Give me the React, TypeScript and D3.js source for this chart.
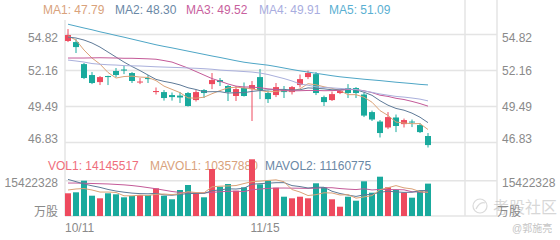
import React from 'react';
import * as d3 from 'd3';

const dates = ['10/11','10/12','10/15','10/16','10/17','10/18','10/19','10/22','10/23','10/24','10/25','10/26','10/29','10/30','10/31','11/01','11/02','11/05','11/06','11/07','11/08','11/09','11/12','11/13','11/14','11/15','11/16','11/19','11/20','11/21','11/22','11/23','11/26','11/27','11/28','11/29','11/30','12/03','12/04','12/05','12/06','12/07','12/10','12/11','12/12','12/13'];
const xTickLabels = ['10/11', '11/15'];
const xTickIndex = [0, 25];

const opens = [54.34,54.26,52.63,51.82,51.30,51.75,52.12,52.23,51.97,51.27,51.60,50.56,50.56,50.34,50.30,50.49,49.97,50.71,51.15,51.45,51.01,50.27,50.86,50.78,51.67,50.49,50.34,50.71,50.56,51.08,51.67,51.89,50.19,49.97,50.49,50.86,50.86,50.38,49.08,48.38,47.94,48.68,48.19,48.38,48.12,47.31];
const closes = [54.78,53.89,51.60,51.23,51.67,51.67,51.82,52.15,51.38,51.34,51.52,50.64,50.12,50.19,50.16,49.53,50.56,50.49,51.45,51.30,50.56,50.78,50.27,51.08,50.71,50.04,50.93,50.56,50.93,51.52,51.97,50.49,49.82,50.41,50.64,50.49,50.49,48.82,48.53,47.53,48.71,48.05,48.49,48.31,47.60,46.64];
const highs = [55.22,54.48,52.71,52.04,51.75,51.77,52.34,52.49,52.04,51.60,51.82,50.90,50.71,50.53,50.56,50.56,50.71,50.78,51.97,51.60,51.08,51.01,51.27,51.38,52.26,50.67,51.23,51.01,51.01,51.86,52.15,52.04,50.30,50.60,50.71,51.15,50.93,50.53,49.19,48.49,49.08,48.90,48.60,48.53,48.27,47.53];
const lows = [54.26,53.45,51.52,51.15,51.08,51.08,51.67,51.89,51.23,51.15,51.23,50.38,49.93,49.93,49.75,49.49,49.86,50.12,50.78,51.01,49.90,49.90,50.23,48.42,50.04,49.75,50.19,50.12,50.38,50.90,51.52,50.34,49.53,49.90,50.41,50.12,50.12,48.71,48.42,47.20,47.82,47.60,47.94,47.97,47.53,46.46];

const ma1 = [54.71,54.41,53.67,53.08,52.63,52.01,51.60,51.71,51.74,51.67,51.64,51.41,51.00,50.76,50.52,50.13,50.11,50.18,50.44,50.67,50.87,50.92,50.87,50.80,50.68,50.58,50.61,50.67,50.64,50.80,51.18,51.10,50.95,50.84,50.67,50.37,50.37,50.18,49.81,49.19,48.83,48.34,48.27,48.22,48.23,47.79];
const ma2 = [54.63,54.56,54.41,54.19,53.89,53.52,53.15,52.78,52.45,52.15,51.82,51.50,51.35,51.24,51.09,50.88,50.75,50.58,50.59,50.59,50.49,50.51,50.52,50.61,50.67,50.72,50.75,50.76,50.71,50.73,50.87,50.84,50.80,50.73,50.73,50.77,50.73,50.55,50.32,49.92,49.59,49.35,49.22,49.00,48.70,48.30];
const ma3 = [53.08,53.08,53.08,53.09,53.10,53.09,53.08,53.06,53.06,53.04,53.02,52.99,52.89,52.78,52.56,52.34,52.08,51.82,51.56,51.37,51.16,51.00,50.94,50.93,50.88,50.80,50.75,50.67,50.65,50.66,50.68,50.68,50.66,50.67,50.69,50.75,50.74,50.66,50.52,50.33,50.24,50.10,50.01,49.87,49.71,49.52];
const ma4 = [52.93,52.86,52.78,52.67,52.62,52.58,52.56,52.52,52.50,52.49,52.46,52.43,52.41,52.39,52.37,52.34,52.32,52.29,52.25,52.19,52.15,52.12,52.08,52.04,51.97,51.86,51.71,51.56,51.38,51.16,51.07,50.95,50.90,50.87,50.83,50.79,50.75,50.64,50.54,50.42,50.33,50.24,50.19,50.12,50.04,49.91];
const ma5 = [55.58,55.44,55.30,55.17,55.02,54.89,54.75,54.62,54.48,54.34,54.20,54.06,53.94,53.83,53.71,53.59,53.47,53.35,53.23,53.12,53.00,52.88,52.77,52.69,52.62,52.55,52.45,52.34,52.23,52.13,52.04,51.95,51.86,51.77,51.69,51.63,51.57,51.51,51.46,51.41,51.35,51.29,51.24,51.19,51.13,51.09];

const volumes = [9920000,10350000,15420000,8870000,7730000,9920000,9480000,8170000,8740000,9170000,9170000,12100000,8870000,7300000,11360000,13540000,10180000,8170000,20530000,12800000,13980000,11050000,12540000,24770000,13850000,15420000,12360000,8430000,7730000,8430000,7730000,14290000,12540000,7300000,4060000,8430000,6680000,15160000,10180000,17170000,12540000,11360000,10180000,8000000,11050000,14145517];
const mavol1 = [11.36,11.80,12.0,11.36,10.46,10.46,10.28,8.83,8.81,9.10,8.95,9.47,9.61,9.32,9.76,10.63,10.25,10.11,12.76,13.04,13.13,13.31,14.18,15.03,15.24,15.53,15.79,14.97,11.56,10.47,8.94,9.32,10.14,10.06,9.18,9.32,7.80,8.33,8.90,11.52,12.35,13.28,12.29,11.85,10.63,10.36];
const mavol2 = [16.0,15.0,14.0,13.2,12.5,11.6,10.9,10.4,10.0,9.78,9.70,9.88,9.22,9.07,9.43,9.79,9.86,9.86,11.04,11.40,11.88,11.78,12.15,13.89,14.14,14.33,14.55,14.57,13.29,12.86,12.23,12.56,12.56,10.81,9.83,9.13,8.56,9.24,9.48,10.35,10.84,10.54,10.31,10.38,11.08,11.16];
const mavol3 = [14.4,14.4,14.3,14.2,14.1,14.0,13.8,13.6,13.3,12.9,12.4,11.9,11.3,10.7,10.3,10.1,10.0,10.1,10.3,10.59,10.79,10.83,10.68,11.48,11.78,12.06,12.20,12.22,12.17,12.13,12.06,12.17,12.35,12.35,11.99,11.73,11.55,11.90,11.39,11.61,11.53,11.55,11.43,10.59,10.45,10.39];

const priceTicks = [54.82, 52.16, 49.49, 46.83];
const volTick = 15422328;

const UP = '#ee4a5e';
const DOWN = '#19aa9d';
const GRID = '#e4e4e4';
const AXIS_TEXT = '#8a8a8a';
const FONT = '"Liberation Sans", Arial, "Noto Sans CJK SC", sans-serif';

const maSeries = [
  { name: 'MA1', data: ma1, color: '#dba277', legend: '#d9a27c', x: 43 },
  { name: 'MA2', data: ma2, color: '#5e7a98', legend: '#6a88a6', x: 115 },
  { name: 'MA3', data: ma3, color: '#c45a98', legend: '#c8609d', x: 186 },
  { name: 'MA4', data: ma4, color: '#aab0dc', legend: '#a9ade0', x: 259 },
  { name: 'MA5', data: ma5, color: '#4ea6c6', legend: '#5aafd2', x: 329 },
];

export default function App() {
  const x = d3.scaleLinear().domain([0, 54]).range([65, 497]);
  const bw = 6;
  const cx = (i: number) => x(i) + bw / 2;
  const y = d3.scaleLinear().domain([46.83, 54.82]).range([142.5, 34.5]);
  const yv = d3.scaleLinear().domain([0, volTick]).range([216, 180.7]);

  const priceLine = d3.line<number>().x((_, i) => cx(i)).y((d) => y(d));
  const volLine = d3.line<number>().x((_, i) => cx(i)).y((d) => yv(d * 1e6));

  const priceLabelY = [41.5, 75, 110.5, 143];
  const vGrid = [
    { x: 65, y1: 20 },
    { x: 265, y1: 0 },
    { x: 465, y1: 0 },
    { x: 497, y1: 0 },
  ];

  return (
    <svg width={560} height={240} style={{ position: 'absolute', left: 0, top: 0, background: '#fff' }} fontFamily={FONT}>
      <rect x={0} y={0} width={560} height={240} fill="#fff" />
      {/* horizontal grid */}
      {priceTicks.map((t) => (
        <line key={t} x1={65} x2={497} y1={y(t)} y2={y(t)} stroke={GRID} strokeWidth={1.5} />
      ))}
      <line x1={65} x2={497} y1={yv(volTick)} y2={yv(volTick)} stroke={GRID} strokeWidth={1.5} />
      <line x1={65} x2={497} y1={216} y2={216} stroke={GRID} strokeWidth={1.5} />
      {vGrid.map((g) => (
        <line key={g.x} x1={g.x} x2={g.x} y1={g.y1} y2={216} stroke={GRID} strokeWidth={1.5} />
      ))}

      {/* price axis labels */}
      {priceTicks.map((t, k) => (
        <g key={'pl' + t}>
          <text x={58} y={priceLabelY[k]} textAnchor="end" fontSize={12} fill={AXIS_TEXT}>{t.toFixed(2)}</text>
          <text x={502} y={priceLabelY[k]} textAnchor="start" fontSize={12} fill={AXIS_TEXT}>{t.toFixed(2)}</text>
        </g>
      ))}
      <text x={58} y={187} textAnchor="end" fontSize={12} fill={AXIS_TEXT}>{volTick}</text>
      <text x={502} y={187} textAnchor="start" fontSize={12} fill={AXIS_TEXT}>{volTick}</text>
      <text x={58} y={215.5} textAnchor="end" fontSize={12} fill={AXIS_TEXT}>万股</text>

      {/* x labels */}
      {xTickIndex.map((idx, k) => (
        <text key={'xl' + k} x={k === 0 ? x(idx) : x(idx)} y={232} textAnchor={k === 0 ? 'start' : 'middle'} fontSize={12} fill={AXIS_TEXT}>{xTickLabels[k]}</text>
      ))}

      {/* MA legend */}
      {maSeries.map((s) => (
        <text key={'lg' + s.name} x={s.x} y={13.5} fontSize={12} fill={s.legend}>{`${s.name}: ${s.data[s.data.length - 1].toFixed(2)}`}</text>
      ))}

      {/* candles */}
      {dates.map((d, i) => {
        const up = closes[i] >= opens[i];
        const c = up ? UP : DOWN;
        const top = y(Math.max(opens[i], closes[i]));
        const bot = y(Math.min(opens[i], closes[i]));
        return (
          <g key={'c' + d}>
            <line x1={cx(i)} x2={cx(i)} y1={y(highs[i])} y2={y(lows[i])} stroke={c} strokeWidth={1} />
            <rect x={x(i)} y={top} width={bw} height={Math.max(1, bot - top)} fill={c} />
          </g>
        );
      })}

      {/* MA lines */}
      {maSeries.map((s) => (
        <path key={'ma' + s.name} d={priceLine(s.data) || ''} fill="none" stroke={s.color} strokeWidth={1} />
      ))}

      {/* volume legend */}
      <text x={48} y={170} fontSize={12} fill="#ef6e7c">{`VOL1: ${volumes[volumes.length - 1]}`}</text>
      <text x={150} y={170} fontSize={12} fill="#d9a27c">MAVOL1: 10357880</text>
      <text x={265} y={170} fontSize={12} fill="#6a88a6">MAVOL2: 11160775</text>

      {/* volume bars */}
      {volumes.map((v, i) => {
        const up = closes[i] >= opens[i];
        return <rect key={'v' + i} x={x(i)} y={yv(v)} width={bw} height={216 - yv(v)} fill={up ? UP : DOWN} />;
      })}
      <path d={volLine(mavol3) || ''} fill="none" stroke="#c45a98" strokeWidth={1} />
      <path d={volLine(mavol2) || ''} fill="none" stroke="#5e7a98" strokeWidth={1} />
      <path d={volLine(mavol1) || ''} fill="none" stroke="#dba277" strokeWidth={1} />

      {/* watermark */}
      <g opacity={0.55}>
        <circle cx={480} cy={206} r={7} fill="none" stroke="#bdbdbd" strokeWidth={1.2} />
        <path d="M476 209 Q480 201 485 203" fill="none" stroke="#bdbdbd" strokeWidth={1.2} />
        <text x={493} y={213} fontSize={16} fill="#b8b8b8">考股社区</text>
      </g>
      <text x={497} y={215.5} textAnchor="start" fontSize={12} fill={AXIS_TEXT}>万股</text>
      <text x={512} y={232} fontSize={10} fill="#c4c4c4">@郭施亮</text>
    </svg>
  );
}
